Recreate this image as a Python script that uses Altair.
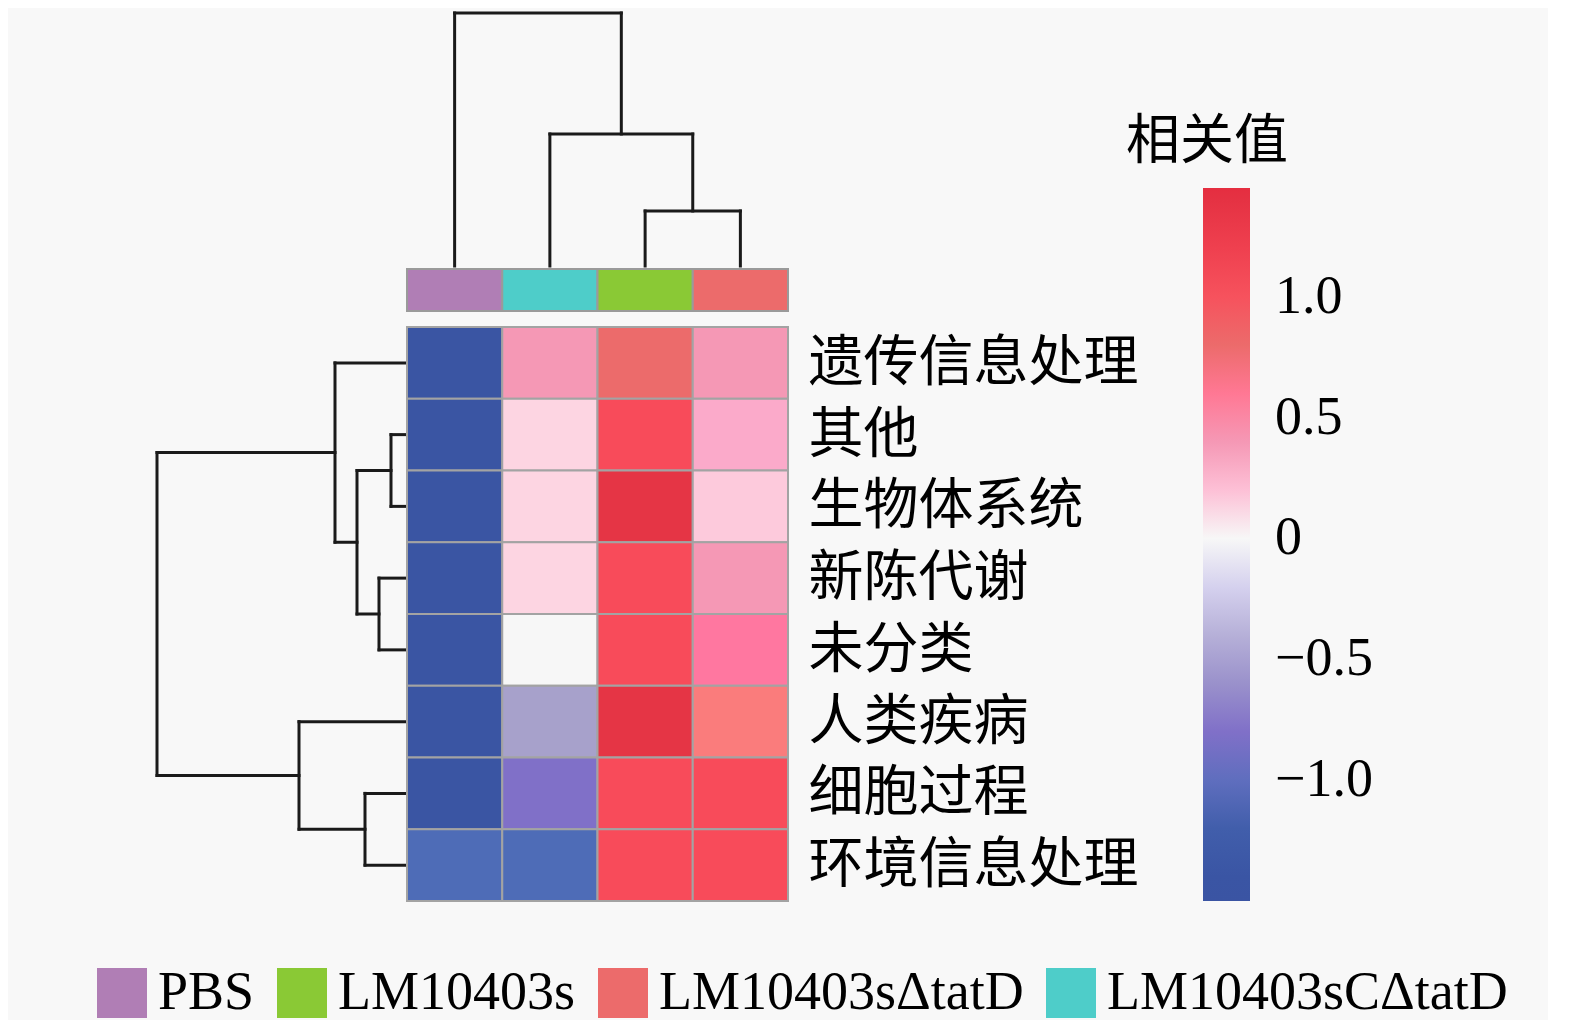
import altair as alt
import pandas as pd

# ---------------- data ----------------
rows = ["遗传信息处理", "其他", "生物体系统", "新陈代谢", "未分类", "人类疾病", "细胞过程", "环境信息处理"]
cols = ["PBS", "LM10403sCΔtatD", "LM10403s", "LM10403sΔtatD"]

val_pbs = [-1.45, -1.45, -1.45, -1.45, -1.45, -1.45, -1.45, -1.1]
val_c_tatd = [0.4, 0.1, 0.1, 0.1, 0.0, -0.5, -0.8, -1.1]
val_lm = [0.8, 1.05, 1.35, 1.05, 1.05, 1.35, 1.05, 1.05]
val_tatd = [0.4, 0.3, 0.15, 0.4, 0.55, 0.7, 1.05, 1.05]

legend_order = ["PBS", "LM10403s", "LM10403sΔtatD", "LM10403sCΔtatD"]
group_colors = ["#B07EB5", "#8AC935", "#EC6B6B", "#4ECDC9"]

color_stops = [-1.5, -1.25, -1.1, -0.8, -0.5, -0.25, 0.0, 0.1, 0.3, 0.4, 0.55, 0.7, 0.8, 1.05, 1.35, 1.45]
color_range = ["#3A54A3", "#3B57A5", "#4E6CB7", "#8070C8", "#A7A1CB", "#CCC8EC", "#F7F7F7",
               "#FDD5E2", "#FBAACA", "#F598B5", "#FF77A0", "#FA7C7C", "#EC6B6B", "#F84B5A",
               "#E53545", "#E52E40"]
legend_ticks = [-1.0, -0.5, 0.0, 0.5, 1.0]

# linkage: (left node, right node, height); leaves are 0..n-1
col_merges = [(2, 3, 2.2), (1, 4, 5.28), (0, 5, 10.12)]
row_merges = [(1, 2, 0.64), (3, 4, 1.12), (8, 9, 2.0), (0, 10, 2.88),
              (6, 7, 1.68), (5, 12, 4.32), (11, 13, 10.0)]

CJK = "Noto Sans CJK SC"
SERIF = "Liberation Serif"


def dendro_segments(n, merges):
    pos = {i: float(i) for i in range(n)}
    hgt = {i: 0.0 for i in range(n)}
    segs = []
    for k, (a, b, h) in enumerate(merges):
        node = n + k
        segs.append(dict(p1=pos[a], p2=pos[a], h1=hgt[a], h2=h))
        segs.append(dict(p1=pos[b], p2=pos[b], h1=hgt[b], h2=h))
        segs.append(dict(p1=pos[a], p2=pos[b], h1=h, h2=h))
        pos[node] = (pos[a] + pos[b]) / 2
        hgt[node] = h
    return pd.DataFrame(segs)


top_df = dendro_segments(len(cols), col_merges)
left_df = dendro_segments(len(rows), row_merges)

heat_df = pd.DataFrame(
    [{"row": r, "col": c, "value": v}
     for c, vals in zip(cols, [val_pbs, val_c_tatd, val_lm, val_tatd])
     for r, v in zip(rows, vals)]
)
ann_df = pd.DataFrame({"col": cols})

HEAT_W, HEAT_H = 381, 574
TOP_H = 253
ANN_H = 42
LEFT_W = 392
LINE = "#1a1a1a"

# ---------------- panels ----------------
top_dendro = alt.Chart(top_df).mark_rule(color=LINE, strokeWidth=3, strokeCap="square").encode(
    x=alt.X("p1:Q", scale=alt.Scale(domain=[-0.5, 3.5], nice=False, zero=False), axis=None),
    x2="p2:Q",
    y=alt.Y("h1:Q", scale=alt.Scale(domain=[0, 10.12], nice=False), axis=None),
    y2="h2:Q",
).properties(width=HEAT_W, height=TOP_H)

left_dendro = alt.Chart(left_df).mark_rule(color=LINE, strokeWidth=3, strokeCap="square").encode(
    y=alt.Y("p1:Q", scale=alt.Scale(domain=[-0.5, 7.5], nice=False, zero=False, reverse=True), axis=None),
    y2="p2:Q",
    x=alt.X("h1:Q", scale=alt.Scale(domain=[0, 15.68], nice=False, reverse=True), axis=None),
    x2="h2:Q",
).properties(width=LEFT_W, height=HEAT_H)

ann = alt.Chart(ann_df).mark_rect(stroke="#9a9a9a", strokeWidth=2).encode(
    x=alt.X("col:N", sort=cols, axis=None),
    fill=alt.Fill(
        "col:N",
        scale=alt.Scale(domain=legend_order, range=group_colors),
        legend=alt.Legend(
            title=None, orient="none", legendX=80, legendY=953, direction="horizontal",
            columns=4, symbolType="square", symbolSize=2500, symbolStrokeWidth=0,
            symbolOpacity=1, labelFont=SERIF, labelFontSize=54, labelColor="black",
            labelOffset=9, columnPadding=20, labelLimit=800,
        ),
    ),
).properties(width=HEAT_W, height=ANN_H)

heat = alt.Chart(heat_df).mark_rect(stroke="#a3a3a3", strokeWidth=2).encode(
    x=alt.X("col:N", sort=cols, axis=None),
    y=alt.Y(
        "row:N", sort=rows,
        axis=alt.Axis(orient="right", title=None, ticks=False, domain=False,
                      labelFont=CJK, labelFontSize=55, labelPadding=20,
                      labelColor="black", labelLimit=600),
    ),
    color=alt.Color(
        "value:Q",
        scale=alt.Scale(domain=color_stops, range=color_range),
        legend=alt.Legend(
            title="相关值", orient="none", legendX=1111, legendY=103,
            direction="vertical",
            gradientLength=713, gradientThickness=47, gradientStrokeWidth=0,
            values=legend_ticks,
            labelExpr="datum.value == 0 ? '0' : format(datum.value, '.1f')",
            labelFont=SERIF, labelFontSize=54, labelColor="black", labelOffset=25,
            titleFont=CJK, titleFontSize=54, titleFontWeight="normal", titleColor="black",
            titlePadding=18, titleAnchor="middle", titleAlign="right",
        ),
    ),
).properties(width=HEAT_W, height=HEAT_H)

blank_df = pd.DataFrame({"a": [0]})

blank = alt.Chart(blank_df).mark_point(opacity=0).encode(
    x=alt.X("a:Q", axis=None), y=alt.Y("a:Q", axis=None)
).properties(width=LEFT_W, height=TOP_H + 3 + ANN_H)

top_stack = alt.vconcat(top_dendro, ann, spacing=3).properties(bounds="flush").resolve_scale(
    x="independent", y="independent")
top_row = alt.hconcat(blank, top_stack, spacing=0).properties(bounds="flush").resolve_scale(
    x="independent", y="independent")
bottom_row = alt.hconcat(left_dendro, heat, spacing=0).properties(bounds="flush").resolve_scale(
    x="independent", y="independent")

chart = alt.vconcat(top_row, bottom_row, spacing=14).properties(
    background="#f8f8f8",
    padding={"left": 7, "top": 2, "right": 40, "bottom": 0},
).resolve_scale(
    x="independent", y="independent"
).configure_view(stroke=None)

chart.save("out.html", embed_options={"renderer": "svg", "actions": False})
